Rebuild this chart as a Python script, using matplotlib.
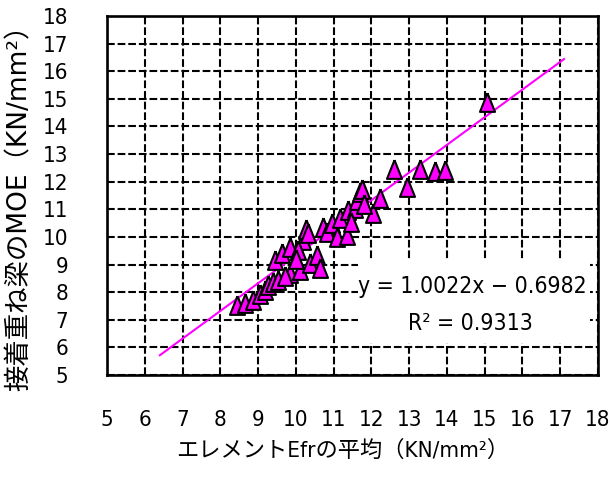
import matplotlib
matplotlib.use("Agg")
import matplotlib.pyplot as plt
import numpy as np
from matplotlib.patches import Rectangle

# element average Efr vs laminated beam MOE (KN/mm2)
efr = [8.44, 8.65, 8.87, 9.05, 9.18, 9.26, 9.40, 9.53, 9.45, 9.63,
       9.85, 9.85, 10.11, 10.19, 10.27, 10.06, 10.32, 10.37, 10.56, 10.64,
       10.72, 10.82, 10.96, 11.09, 11.17, 11.35, 11.38, 11.57, 11.62, 11.70,
       11.75, 12.04, 12.23, 12.59, 12.95, 13.29, 13.68, 13.95, 15.06,
       9.70, 10.00, 11.45, 11.80]
moe = [7.54, 7.61, 7.72, 7.95, 8.08, 8.26, 8.35, 8.44, 9.17, 9.42,
       9.64, 8.70, 8.80, 9.89, 10.29, 9.53, 10.14, 9.06, 9.35, 8.88,
       10.36, 10.18, 10.51, 10.00, 10.69, 10.07, 10.98, 11.05, 11.34, 11.63,
       11.74, 10.87, 11.41, 12.45, 11.80, 12.45, 12.37, 12.43, 14.89,
       8.60, 9.20, 10.55, 11.20]

slope, intercept = 1.0022, -0.6982
r2 = 0.9313
trend_range = [6.4, 17.1]
ticks = list(range(5, 19))

num_font = ["DejaVu Sans"]
jp_font = ["DejaVu Sans", "Noto Sans CJK JP"]
narrow = dict(family=num_font, stretch="condensed")

fig = plt.figure(figsize=(6.10, 4.78), dpi=100)
ax = fig.add_axes([107 / 610, 1 - 375 / 478, 491 / 610, 359 / 478])

ax.set_xlim(5, 18)
ax.set_ylim(5, 18)
ax.set_xticks(ticks)
ax.set_yticks(ticks)
ax.set_axisbelow(True)
ax.grid(True, color="black", linestyle=(0, (3.7, 1.4)), linewidth=1.5)
for s in ax.spines.values():
    s.set_linewidth(1.9)

ax.tick_params(length=0, labelsize=16)
ax.tick_params(axis="y", pad=28)
ax.tick_params(axis="x", pad=25)
for lab in ax.get_xticklabels() + ax.get_yticklabels():
    lab.set_family(num_font)
    lab.set_stretch("condensed")

# white box behind the regression text
ax.add_patch(Rectangle(((358 - 107) / 491, (375 - 343) / 359),
                       (590 - 358) / 491, (343 - 260) / 359,
                       transform=ax.transAxes, facecolor="white",
                       edgecolor="none", zorder=1))

tx = np.array(trend_range)
ax.plot(tx, slope * tx + intercept, color="#FF00FF", linewidth=1.5,
        zorder=3, clip_on=False)

tri = [(0, 1), (-0.8, -1), (0.8, -1), (0, 1)]
ax.plot(efr, moe, linestyle="none", marker=tri, markersize=13.5,
        markerfacecolor="#FF00FF", markeredgecolor="black",
        markeredgewidth=1.5, zorder=4)

ax.text((472 - 107) / 491, (375 - 287) / 359,
        f"y = {slope:.4f}x − {abs(intercept):.4f}",
        transform=ax.transAxes, ha="center", va="center",
        fontsize=16.5, zorder=5, **narrow)
ax.text((470 - 107) / 491, (375 - 323) / 359,
        f"R² = {r2:.4f}",
        transform=ax.transAxes, ha="center", va="center",
        fontsize=16.5, zorder=5, **narrow)

fig.text(343 / 610, 1 - 450 / 478, "エレメントEfrの平均（KN/mm²）",
         ha="center", va="center", fontsize=16, family=jp_font,
         stretch="condensed")
fig.text(20 / 610, 1 - 201 / 478, "接着重ね梁のMOE（KN/mm²）",
         ha="center", va="center", rotation=90, fontsize=19,
         family=jp_font)

fig.savefig("out.png", dpi=100)
